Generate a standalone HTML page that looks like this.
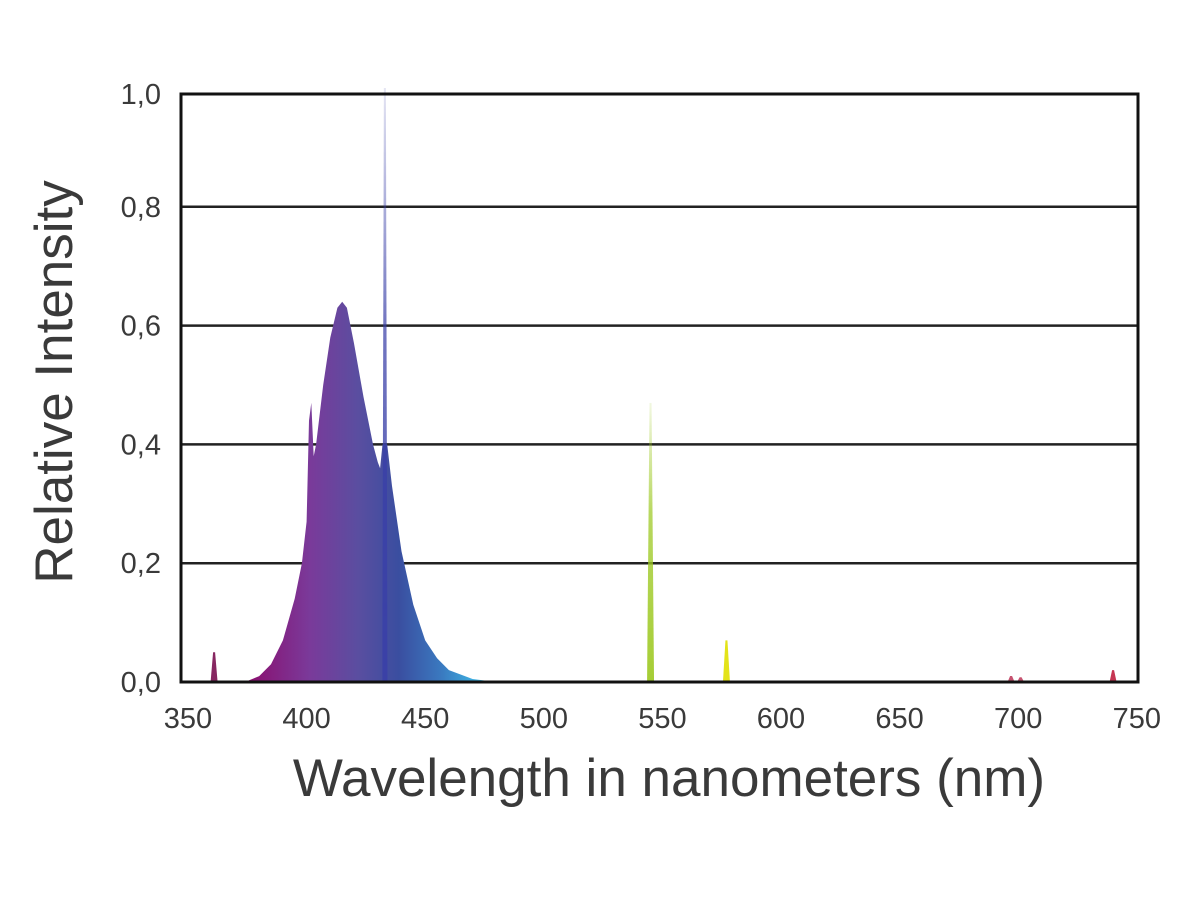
<!DOCTYPE html>
<html><head><meta charset="utf-8"><style>
body{margin:0;background:#fff;}
svg text{font-family:"Liberation Sans",sans-serif;fill:#3a3a3a;}
</style></head><body>
<svg width="1200" height="900">
<defs>
<linearGradient id="bandGrad" gradientUnits="userSpaceOnUse" x1="250" y1="0" x2="490" y2="0">
<stop offset="0" stop-color="#8a1070"/>
<stop offset="0.25" stop-color="#7a3a9a"/>
<stop offset="0.45" stop-color="#5a4ea0"/>
<stop offset="0.62" stop-color="#3a4ea0"/>
<stop offset="0.8" stop-color="#3a7ac0"/>
<stop offset="1" stop-color="#40c8f0"/>
</linearGradient>
<linearGradient id="fade" x1="0" y1="1" x2="0" y2="0">
<stop offset="0" stop-color="#fff" stop-opacity="1"/>
<stop offset="0.6" stop-color="#fff" stop-opacity="0.8"/>
<stop offset="1" stop-color="#fff" stop-opacity="0.15"/>
</linearGradient>
<mask id="fadeMask" maskContentUnits="objectBoundingBox"><rect width="1" height="1" fill="url(#fade)"/></mask>
</defs>
<g id="grid"></g>
<g id="marks"></g>
<rect x="181" y="94" width="957" height="588" fill="none" stroke="#111" stroke-width="3"/>
<g id="labels"></g>
<text x="669" y="796" font-size="53" text-anchor="middle">Wavelength in nanometers (nm)</text>
<text transform="translate(72,382) rotate(-90)" font-size="53" text-anchor="middle">Relative  Intensity</text>
</svg>
<script>
const bandNm=[374,380,385,390,395,398,400,401,402,403,404,407,410,413,415,417,420,424,428,430,431,432,434,436,440,445,450,455,460,470,480];
const bandVal=[0,0.01,0.03,0.07,0.14,0.2,0.27,0.44,0.47,0.38,0.40,0.50,0.58,0.63,0.64,0.63,0.57,0.48,0.40,0.37,0.36,0.40,0.40,0.33,0.22,0.13,0.07,0.04,0.02,0.005,0];
const spikeNm=[361,433,545,577,697,701,740];
const spikeVal=[0.05,1.0,0.47,0.07,0.01,0.008,0.02];
const spikeColors=["#7a1050","#3a40a8","#9cc820","#e0e000","#c04060","#c04060","#c02040"];
const yTicks=[0,0.2,0.4,0.6,0.8,1.0];
const yTickLabels=["0,0","0,2","0,4","0,6","0,8","1,0"];
const xTicks=[350,400,450,500,550,600,650,700,750];
const ns="http://www.w3.org/2000/svg";
const X=nm=>188+(nm-350)*2.372;
const Y=v=>682-v*594;
const grid=document.getElementById('grid'),marks=document.getElementById('marks'),labels=document.getElementById('labels');
function mk(tag,attrs,parent){const e=document.createElementNS(ns,tag);for(const k in attrs)e.setAttribute(k,attrs[k]);parent.appendChild(e);return e;}
yTicks.forEach((t,i)=>{
  if(t>0&&t<1){const l=mk('line',{x1:181,x2:1138,y1:Y(t),y2:Y(t),stroke:'#222','stroke-width':2.5},grid);
  
  }
  const tx=mk('text',{x:161,y:(t===1?94:Y(t))+10,'font-size':29,'text-anchor':'end'},labels);
  tx.textContent=yTickLabels[i];
  
  
});
xTicks.forEach(t=>{
  const tx=mk('text',{x:X(t),y:728,'font-size':29,'text-anchor':'middle'},labels);
  tx.textContent=t;
  
  
});
let d='M'+X(bandNm[0])+','+Y(0);
bandNm.forEach((n,i)=>{d+=' L'+X(n).toFixed(1)+','+Y(bandVal[i]).toFixed(1);});
d+=' L'+X(bandNm[bandNm.length-1])+','+Y(0)+' Z';
const band=mk('path',{d:d,fill:'url(#bandGrad)','stroke-linejoin':'round'},marks);


spikeNm.forEach((n,i)=>{
  const x=X(n),w=n===433?2.6:3.5;
  const attrs={d:`M${x-w},${Y(0)} L${x-1},${Y(spikeVal[i])} L${x+1},${Y(spikeVal[i])} L${x+w},${Y(0)} Z`,fill:spikeColors[i],opacity:0.9};
  if(spikeVal[i]>0.3) attrs.mask='url(#fadeMask)';
  const p=mk('path',attrs,marks);
  
  
});
</script>
</body></html>
